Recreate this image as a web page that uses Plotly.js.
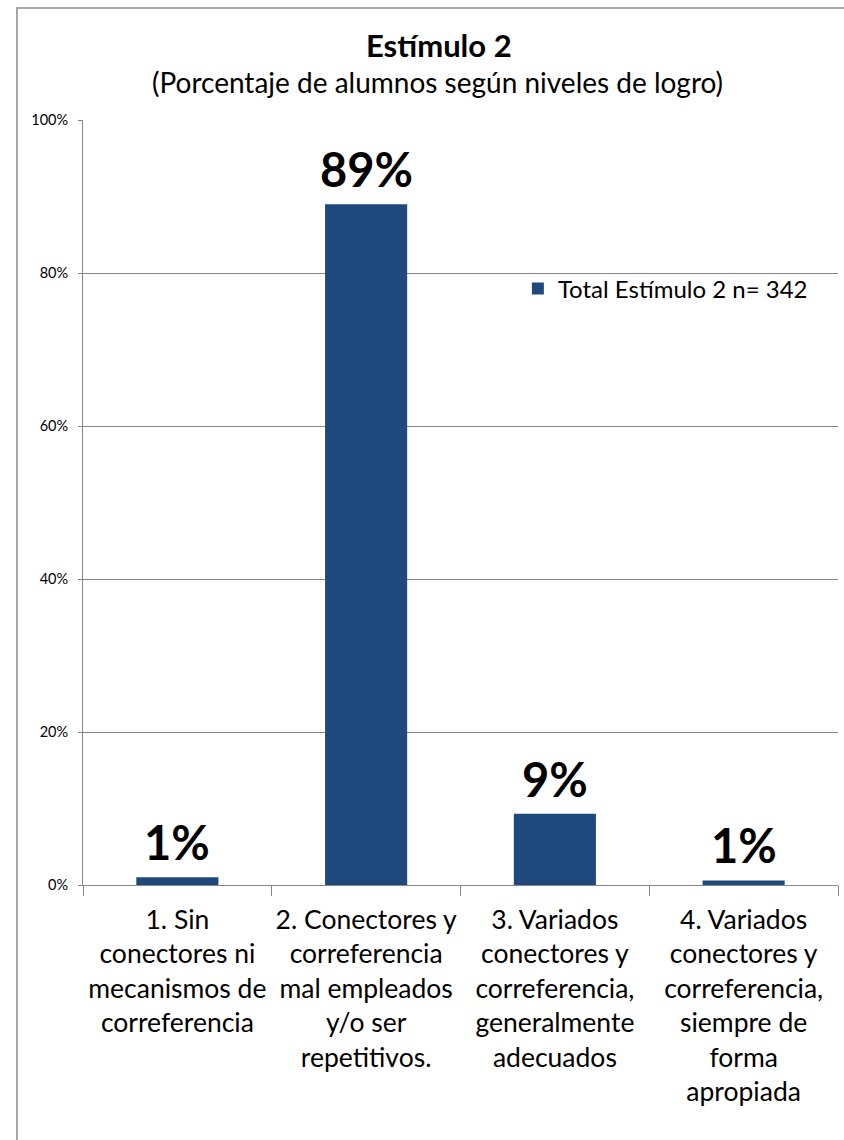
<!DOCTYPE html>
<html>
<head>
<meta charset="utf-8">
<script src="https://cdn.plot.ly/plotly-3.0.1.min.js"></script>
<style>
  html, body { margin: 0; padding: 0; background: #ffffff; overflow: hidden; }
  #frameTop { position: absolute; left: 16px; top: 7px; width: 828px; height: 2px; background: #a6a6a6; }
  #frameLeft { position: absolute; left: 16px; top: 7px; width: 2px; height: 1133px; background: #a6a6a6; }
  #chart { position: absolute; left: 0; top: 0; width: 844px; height: 1140px; }
</style>
</head>
<body>
<div id="frameTop"></div>
<div id="frameLeft"></div>
<div id="chart"></div>
<script>
const categories = [
  "1. Sin<br>conectores ni<br>mecanismos de<br>correferencia",
  "2. Conectores y<br>correferencia<br>mal empleados<br>y/o ser<br>repetitivos.",
  "3. Variados<br>conectores y<br>correferencia,<br>generalmente<br>adecuados",
  "4. Variados<br>conectores y<br>correferencia,<br>siempre de<br>forma<br>apropiada"
];
const values = [1.0, 89.0, 9.3, 0.6];
const seriesName = "Total Estímulo 2 n= 342";
const titleText = "Estímulo 2";
const subtitleText = "(Porcentaje de alumnos según niveles de logro)";
const yTickVals = [0, 20, 40, 60, 80, 100];
const yTickText = ["0%", "20%", "40%", "60%", "80%", "100%"];

const FONT = "Lato, 'Noto Sans', sans-serif";

const trace = {
  type: "bar",
  x: categories,
  y: values,
  name: seriesName,
  marker: { color: "#1F497D" },
  width: 0.435,
  textposition: "none",
  showlegend: true,
  hoverinfo: "skip"
};

const labelAnnotations = categories.map((c, i) => ({
  x: c, y: values[i], xref: "x", yref: "y",
  text: "<b>" + Math.round(values[i]) + "%</b>",
  showarrow: false, xanchor: "center", yanchor: "middle", yshift: 35,
  font: { family: FONT, size: 47, color: "#000000" }
}));

const layout = {
  width: 844, height: 1140,
  margin: { l: 83, r: 6, t: 120, b: 255 },
  paper_bgcolor: "rgba(0,0,0,0)",
  plot_bgcolor: "rgba(0,0,0,0)",
  font: { family: FONT, color: "#000000" },
  showlegend: true,
  legend: {
    x: 0.576, y: (885 - 289) / 765, xanchor: "left", yanchor: "middle",
    bgcolor: "rgba(0,0,0,0)",
    font: { family: FONT, size: 24, color: "#000000" },
    itemwidth: 30
  },
  xaxis: {
    type: "category",
    showline: true, linecolor: "#868686", linewidth: 1,
    ticks: "outside", tickson: "boundaries", ticklen: 10, tickcolor: "#868686",
    tickfont: { family: FONT, size: 26.5, color: "#000000" },
    tickangle: 0,
    ticklabelstandoff: 11,
    showgrid: false,
    fixedrange: true
  },
  yaxis: {
    range: [0, 100],
    tickvals: yTickVals, ticktext: yTickText,
    showline: true, linecolor: "#868686", linewidth: 1,
    ticks: "outside", ticklen: 4, tickcolor: "#868686",
    tickfont: { family: FONT, size: 14.5, color: "#000000" },
    ticklabelstandoff: 7,
    showgrid: true, gridcolor: "#868686", gridwidth: 1,
    zeroline: false,
    fixedrange: true
  },
  annotations: [
    { text: "<b>" + titleText + "</b>", xref: "paper", yref: "paper",
      x: 0.471, y: (885 - 45) / 765, xanchor: "center", yanchor: "middle",
      showarrow: false, font: { family: FONT, size: 31, color: "#000000" } },
    { text: subtitleText, xref: "paper", yref: "paper",
      x: 0.469, y: (885 - 82) / 765, xanchor: "center", yanchor: "middle",
      showarrow: false, font: { family: FONT, size: 28, color: "#000000" } }
  ].concat(labelAnnotations),
  bargap: 0.565
};

Plotly.newPlot("chart", [trace], layout, { displayModeBar: false, staticPlot: true });
</script>
</body>
</html>
